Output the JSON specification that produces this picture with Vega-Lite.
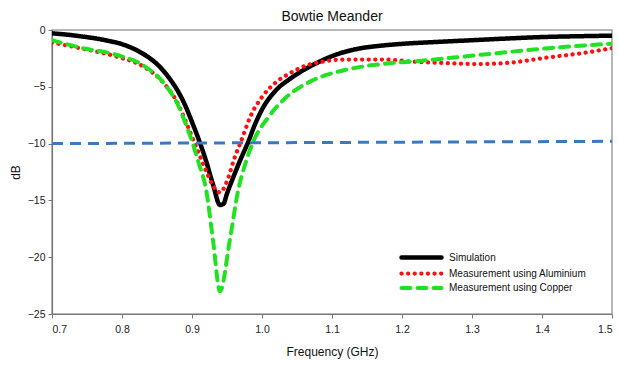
{
  "$schema": "https://vega.github.io/schema/vega-lite/v6.json",
  "width": 560,
  "height": 284,
  "autosize": "none",
  "padding": {"left": 52, "top": 30, "right": 7, "bottom": 51},
  "background": "white",
  "title": {"text": "Bowtie Meander", "fontSize": 14, "fontWeight": "normal", "font": "Liberation Sans", "color": "#111", "offset": 1},
  "config": {
    "view": {"stroke": "#a0a0a0", "strokeWidth": 1.5},
    "axis": {"domainColor": "#777", "tickColor": "#777", "labelColor": "#222", "labelFont": "Liberation Sans", "labelFontSize": 10.5, "titleFont": "Liberation Sans", "titleFontSize": 12, "titleFontWeight": "normal", "titleColor": "#111", "grid": false, "tickSize": 4, "domainWidth": 1.2}
  },
  "datasets": {
    "curves": [
      {"series": "Simulation", "f": 0.70, "db": -0.3},
      {"series": "Simulation", "f": 0.72, "db": -0.4},
      {"series": "Simulation", "f": 0.74, "db": -0.55},
      {"series": "Simulation", "f": 0.76, "db": -0.72},
      {"series": "Simulation", "f": 0.78, "db": -0.95},
      {"series": "Simulation", "f": 0.80, "db": -1.25},
      {"series": "Simulation", "f": 0.82, "db": -1.75},
      {"series": "Simulation", "f": 0.84, "db": -2.5},
      {"series": "Simulation", "f": 0.85, "db": -3.0},
      {"series": "Simulation", "f": 0.86, "db": -3.65},
      {"series": "Simulation", "f": 0.87, "db": -4.45},
      {"series": "Simulation", "f": 0.88, "db": -5.4},
      {"series": "Simulation", "f": 0.89, "db": -6.6},
      {"series": "Simulation", "f": 0.90, "db": -8.1},
      {"series": "Simulation", "f": 0.91, "db": -9.7},
      {"series": "Simulation", "f": 0.92, "db": -11.5},
      {"series": "Simulation", "f": 0.93, "db": -13.6},
      {"series": "Simulation", "f": 0.94, "db": -15.4},
      {"series": "Simulation", "f": 0.945, "db": -15.3},
      {"series": "Simulation", "f": 0.95, "db": -14.4},
      {"series": "Simulation", "f": 0.96, "db": -12.8},
      {"series": "Simulation", "f": 0.97, "db": -11.3},
      {"series": "Simulation", "f": 0.98, "db": -9.9},
      {"series": "Simulation", "f": 0.99, "db": -8.3},
      {"series": "Simulation", "f": 1.00, "db": -7.0},
      {"series": "Simulation", "f": 1.02, "db": -5.3},
      {"series": "Simulation", "f": 1.04, "db": -4.3},
      {"series": "Simulation", "f": 1.06, "db": -3.5},
      {"series": "Simulation", "f": 1.08, "db": -2.85},
      {"series": "Simulation", "f": 1.10, "db": -2.3},
      {"series": "Simulation", "f": 1.12, "db": -1.9},
      {"series": "Simulation", "f": 1.14, "db": -1.62},
      {"series": "Simulation", "f": 1.17, "db": -1.38},
      {"series": "Simulation", "f": 1.20, "db": -1.22},
      {"series": "Simulation", "f": 1.25, "db": -1.05},
      {"series": "Simulation", "f": 1.30, "db": -0.9},
      {"series": "Simulation", "f": 1.35, "db": -0.75},
      {"series": "Simulation", "f": 1.40, "db": -0.62},
      {"series": "Simulation", "f": 1.45, "db": -0.55},
      {"series": "Simulation", "f": 1.50, "db": -0.5},
      {"series": "Measurement using Aluminium", "f": 0.70, "db": -1.1},
      {"series": "Measurement using Aluminium", "f": 0.74, "db": -1.6},
      {"series": "Measurement using Aluminium", "f": 0.79, "db": -2.3},
      {"series": "Measurement using Aluminium", "f": 0.83, "db": -3.2},
      {"series": "Measurement using Aluminium", "f": 0.86, "db": -4.7},
      {"series": "Measurement using Aluminium", "f": 0.88, "db": -6.5},
      {"series": "Measurement using Aluminium", "f": 0.89, "db": -7.9},
      {"series": "Measurement using Aluminium", "f": 0.90, "db": -9.4},
      {"series": "Measurement using Aluminium", "f": 0.91, "db": -10.9},
      {"series": "Measurement using Aluminium", "f": 0.92, "db": -12.4},
      {"series": "Measurement using Aluminium", "f": 0.93, "db": -13.7},
      {"series": "Measurement using Aluminium", "f": 0.94, "db": -14.3},
      {"series": "Measurement using Aluminium", "f": 0.95, "db": -13.3},
      {"series": "Measurement using Aluminium", "f": 0.96, "db": -11.4},
      {"series": "Measurement using Aluminium", "f": 0.97, "db": -9.8},
      {"series": "Measurement using Aluminium", "f": 0.985, "db": -7.4},
      {"series": "Measurement using Aluminium", "f": 1.00, "db": -5.9},
      {"series": "Measurement using Aluminium", "f": 1.02, "db": -4.6},
      {"series": "Measurement using Aluminium", "f": 1.04, "db": -3.8},
      {"series": "Measurement using Aluminium", "f": 1.07, "db": -3.0},
      {"series": "Measurement using Aluminium", "f": 1.12, "db": -2.6},
      {"series": "Measurement using Aluminium", "f": 1.17, "db": -2.6},
      {"series": "Measurement using Aluminium", "f": 1.22, "db": -2.8},
      {"series": "Measurement using Aluminium", "f": 1.26, "db": -2.9},
      {"series": "Measurement using Aluminium", "f": 1.31, "db": -3.0},
      {"series": "Measurement using Aluminium", "f": 1.35, "db": -2.9},
      {"series": "Measurement using Aluminium", "f": 1.41, "db": -2.4},
      {"series": "Measurement using Aluminium", "f": 1.45, "db": -2.1},
      {"series": "Measurement using Aluminium", "f": 1.50, "db": -1.6},
      {"series": "Measurement using Copper", "f": 0.70, "db": -0.9},
      {"series": "Measurement using Copper", "f": 0.744, "db": -1.6},
      {"series": "Measurement using Copper", "f": 0.793, "db": -2.2},
      {"series": "Measurement using Copper", "f": 0.83, "db": -3.1},
      {"series": "Measurement using Copper", "f": 0.86, "db": -4.7},
      {"series": "Measurement using Copper", "f": 0.88, "db": -6.6},
      {"series": "Measurement using Copper", "f": 0.89, "db": -8.1},
      {"series": "Measurement using Copper", "f": 0.90, "db": -9.8},
      {"series": "Measurement using Copper", "f": 0.91, "db": -11.8},
      {"series": "Measurement using Copper", "f": 0.92, "db": -14.0},
      {"series": "Measurement using Copper", "f": 0.93, "db": -18.5},
      {"series": "Measurement using Copper", "f": 0.94, "db": -23.0},
      {"series": "Measurement using Copper", "f": 0.954, "db": -18.5},
      {"series": "Measurement using Copper", "f": 0.966, "db": -14.1},
      {"series": "Measurement using Copper", "f": 0.976, "db": -11.8},
      {"series": "Measurement using Copper", "f": 0.987, "db": -9.9},
      {"series": "Measurement using Copper", "f": 1.01, "db": -7.6},
      {"series": "Measurement using Copper", "f": 1.035, "db": -5.9},
      {"series": "Measurement using Copper", "f": 1.07, "db": -4.5},
      {"series": "Measurement using Copper", "f": 1.12, "db": -3.5},
      {"series": "Measurement using Copper", "f": 1.17, "db": -3.0},
      {"series": "Measurement using Copper", "f": 1.22, "db": -2.75},
      {"series": "Measurement using Copper", "f": 1.31, "db": -2.2},
      {"series": "Measurement using Copper", "f": 1.41, "db": -1.6},
      {"series": "Measurement using Copper", "f": 1.50, "db": -1.2}
    ],
    "threshold": [
      {"f": 0.70, "db": -10.0},
      {"f": 1.50, "db": -9.8}
    ]
  },
  "layer": [
    {
      "data": {"name": "curves"},
      "mark": {"type": "line", "interpolate": "monotone", "strokeCap": "round", "clip": true},
      "encoding": {
        "x": {"field": "f", "type": "quantitative", "title": "Frequency (GHz)", "scale": {"domain": [0.7, 1.5], "nice": false}, "axis": {"values": [0.7, 0.8, 0.9, 1.0, 1.1, 1.2, 1.3, 1.4, 1.5], "format": ".1f", "labelPadding": 6, "titlePadding": 12}},
        "y": {"field": "db", "type": "quantitative", "title": "dB", "scale": {"domain": [-25, 0], "nice": false}, "axis": {"values": [-25, -20, -15, -10, -5, 0], "labelPadding": 3, "titlePadding": 5}},
        "color": {"field": "series", "type": "nominal", "title": null, "sort": ["Simulation", "Measurement using Aluminium", "Measurement using Copper"], "scale": {"domain": ["Simulation", "Measurement using Aluminium", "Measurement using Copper"], "range": ["#000000", "#ff1010", "#22e022"]},
          "legend": {"orient": "none", "legendX": 363, "legendY": 221, "symbolType": "M-5,0L5,0", "symbolSize": 64, "labelOffset": 21, "labelFont": "Liberation Sans", "labelFontSize": 10, "labelColor": "#111", "rowPadding": -2, "padding": 0,
            "encode": {"symbols": {"update": {"strokeCap": {"value": "round"}}}}}},
        "strokeDash": {"field": "series", "type": "nominal", "title": null, "sort": ["Simulation", "Measurement using Aluminium", "Measurement using Copper"], "scale": {"domain": ["Simulation", "Measurement using Aluminium", "Measurement using Copper"], "range": [[1, 0], [0.1, 6.5], [9, 7]]}},
        "strokeWidth": {"field": "series", "type": "nominal", "title": null, "sort": ["Simulation", "Measurement using Aluminium", "Measurement using Copper"], "scale": {"domain": ["Simulation", "Measurement using Aluminium", "Measurement using Copper"], "range": [4.5, 4, 4.5]}},
        "order": {"field": "f", "type": "quantitative"}
      }
    },
    {
      "data": {"name": "threshold"},
      "mark": {"type": "line", "color": "#3a78c0", "strokeWidth": 3, "strokeDash": [11, 7]},
      "encoding": {
        "x": {"field": "f", "type": "quantitative"},
        "y": {"field": "db", "type": "quantitative"}
      }
    }
  ]
}
